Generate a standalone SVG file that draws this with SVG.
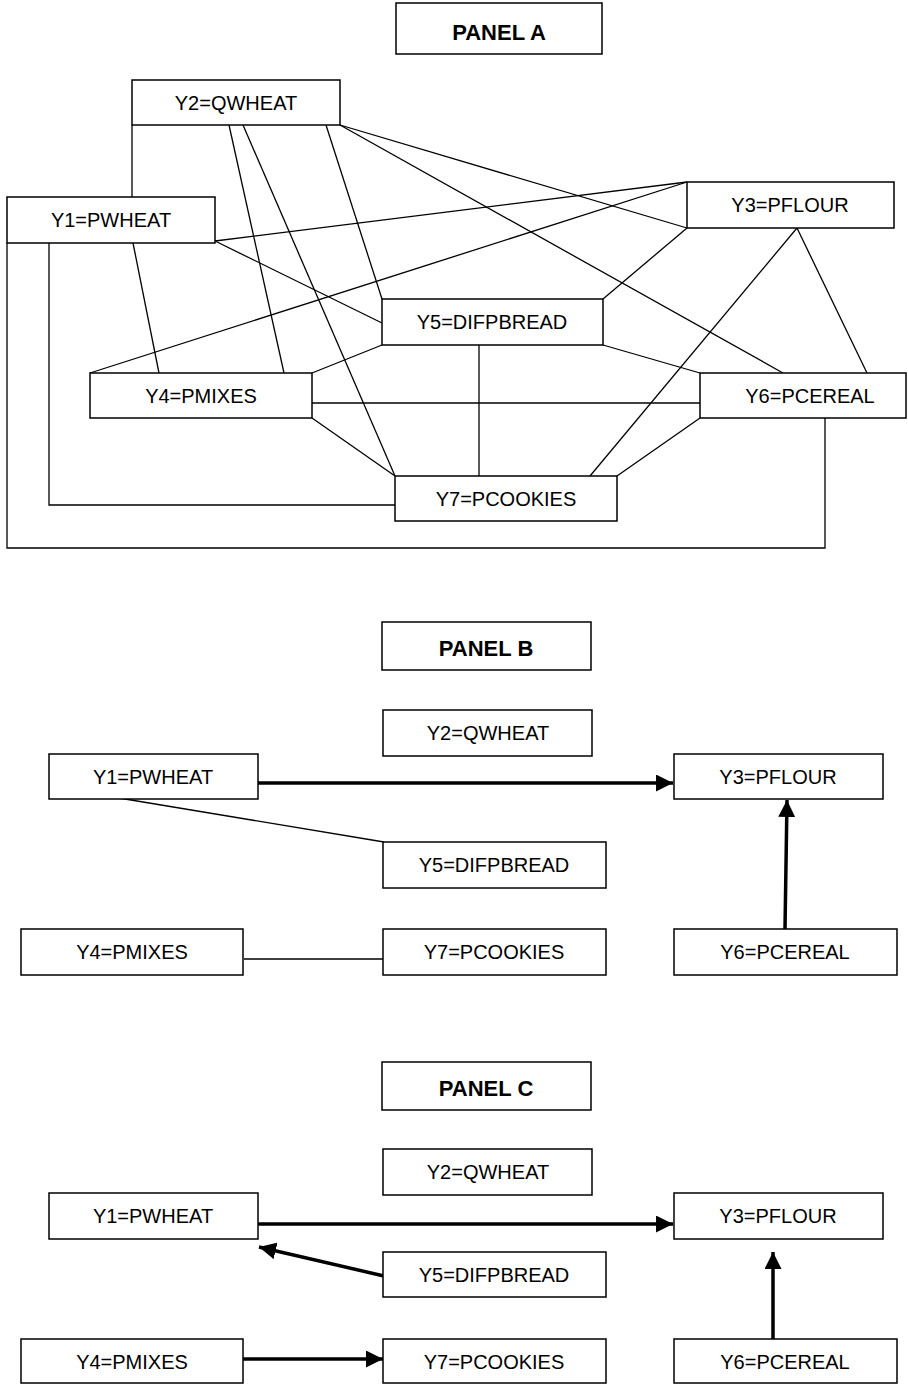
<svg xmlns="http://www.w3.org/2000/svg" width="908" height="1384" viewBox="0 0 908 1384">
<defs>
<style>
.box{fill:#fff;stroke:#000;stroke-width:1.5}
.t{font-family:"Liberation Sans",Arial,sans-serif;font-size:20px;text-anchor:middle;fill:#000}
.h{font-family:"Liberation Sans",Arial,sans-serif;font-size:22px;font-weight:bold;text-anchor:middle;fill:#000}
.ln{fill:none;stroke:#000;stroke-width:1.3}
.ar{fill:none;stroke:#000;stroke-width:3.5}
.ar2{fill:none;stroke:#000;stroke-width:3.5}
</style>
<marker id="ah" viewBox="0 0 17 17" refX="17" refY="8.5" markerWidth="17" markerHeight="17" markerUnits="userSpaceOnUse" orient="auto">
<path d="M0,0 L17,8.5 L0,17 z" fill="#000"/>
</marker>
</defs>
<rect width="908" height="1384" fill="#fff"/>

<!-- Panel A -->
<g id="connectors-a">
<polyline class="ln" points="7,243 7,548 825,548 825,418"/>
<polyline class="ln" points="49,243 49,505 395,505"/>
<line class="ln" x1="132" y1="125" x2="132" y2="197"/>
<line class="ln" x1="229" y1="125" x2="284" y2="373"/>
<line class="ln" x1="243" y1="125" x2="395" y2="476"/>
<line class="ln" x1="326" y1="125" x2="382" y2="299"/>
<line class="ln" x1="340" y1="125" x2="687" y2="228"/>
<line class="ln" x1="340" y1="125" x2="783" y2="373"/>
<line class="ln" x1="215" y1="241" x2="687" y2="182"/>
<line class="ln" x1="215" y1="241" x2="382" y2="323"/>
<line class="ln" x1="133" y1="243" x2="159" y2="373"/>
<line class="ln" x1="90" y1="373" x2="687" y2="182"/>
<line class="ln" x1="312" y1="373" x2="382" y2="345"/>
<line class="ln" x1="312" y1="403" x2="700" y2="403"/>
<line class="ln" x1="312" y1="418" x2="395" y2="476"/>
<line class="ln" x1="603" y1="299" x2="687" y2="228"/>
<line class="ln" x1="603" y1="345" x2="700" y2="373"/>
<line class="ln" x1="479" y1="345" x2="479" y2="476"/>
<line class="ln" x1="797" y1="228" x2="867" y2="373"/>
<line class="ln" x1="797" y1="228" x2="590" y2="476"/>
<line class="ln" x1="700" y1="418" x2="617" y2="476"/>
</g>
<g id="panel-a-title"><rect class="box" x="396" y="3" width="206" height="51"/><text class="h" x="499" y="40">PANEL A</text></g>
<g id="a-y2"><rect class="box" x="132" y="80" width="208" height="45"/><text class="t" x="236" y="110">Y2=QWHEAT</text></g>
<g id="a-y1"><rect class="box" x="7" y="197" width="208" height="46"/><text class="t" x="111" y="227">Y1=PWHEAT</text></g>
<g id="a-y3"><rect class="box" x="687" y="182" width="207" height="46"/><text class="t" x="790" y="212">Y3=PFLOUR</text></g>
<g id="a-y5"><rect class="box" x="382" y="299" width="221" height="46"/><text class="t" x="492" y="329">Y5=DIFPBREAD</text></g>
<g id="a-y4"><rect class="box" x="90" y="373" width="222" height="45"/><text class="t" x="201" y="403">Y4=PMIXES</text></g>
<g id="a-y6"><rect class="box" x="700" y="373" width="206" height="45"/><text class="t" x="810" y="403">Y6=PCEREAL</text></g>
<g id="a-y7"><rect class="box" x="395" y="476" width="222" height="45"/><text class="t" x="506" y="506">Y7=PCOOKIES</text></g>

<!-- Panel B -->
<g id="connectors-b">
<line class="ar" x1="258" y1="783" x2="673" y2="783" marker-end="url(#ah)"/>
<line class="ar2" x1="785" y1="929" x2="787" y2="800" marker-end="url(#ah)"/>
<line class="ln" x1="119" y1="798" x2="384" y2="842"/>
<line class="ln" x1="244" y1="959" x2="384" y2="959"/>
</g>
<g id="panel-b-title"><rect class="box" x="382" y="622" width="209" height="48"/><text class="h" x="486" y="656">PANEL B</text></g>
<g id="b-y2"><rect class="box" x="383" y="710" width="209" height="46"/><text class="t" x="488" y="740">Y2=QWHEAT</text></g>
<g id="b-y1"><rect class="box" x="49" y="754" width="209" height="45"/><text class="t" x="153" y="784">Y1=PWHEAT</text></g>
<g id="b-y3"><rect class="box" x="674" y="754" width="209" height="45"/><text class="t" x="778" y="784">Y3=PFLOUR</text></g>
<g id="b-y5"><rect class="box" x="383" y="842" width="223" height="46"/><text class="t" x="494" y="872">Y5=DIFPBREAD</text></g>
<g id="b-y4"><rect class="box" x="21" y="929" width="222" height="46"/><text class="t" x="132" y="959">Y4=PMIXES</text></g>
<g id="b-y7"><rect class="box" x="383" y="929" width="223" height="46"/><text class="t" x="494" y="959">Y7=PCOOKIES</text></g>
<g id="b-y6"><rect class="box" x="674" y="929" width="223" height="46"/><text class="t" x="785" y="959">Y6=PCEREAL</text></g>

<!-- Panel C -->
<g id="connectors-c">
<line class="ar" x1="258" y1="1224" x2="673" y2="1224" marker-end="url(#ah)"/>
<line class="ar" x1="384" y1="1276" x2="259" y2="1247" marker-end="url(#ah)"/>
<line class="ar2" x1="773" y1="1340" x2="773" y2="1252" marker-end="url(#ah)"/>
<line class="ar" x1="242" y1="1359" x2="383" y2="1359" marker-end="url(#ah)"/>
</g>
<g id="panel-c-title"><rect class="box" x="382" y="1062" width="209" height="48"/><text class="h" x="486" y="1096">PANEL C</text></g>
<g id="c-y2"><rect class="box" x="383" y="1149" width="209" height="46"/><text class="t" x="488" y="1179">Y2=QWHEAT</text></g>
<g id="c-y1"><rect class="box" x="49" y="1193" width="209" height="46"/><text class="t" x="153" y="1223">Y1=PWHEAT</text></g>
<g id="c-y3"><rect class="box" x="674" y="1193" width="209" height="46"/><text class="t" x="778" y="1223">Y3=PFLOUR</text></g>
<g id="c-y5"><rect class="box" x="383" y="1252" width="223" height="45"/><text class="t" x="494" y="1282">Y5=DIFPBREAD</text></g>
<g id="c-y4"><rect class="box" x="21" y="1339" width="222" height="44"/><text class="t" x="132" y="1369">Y4=PMIXES</text></g>
<g id="c-y7"><rect class="box" x="383" y="1339" width="223" height="44"/><text class="t" x="494" y="1369">Y7=PCOOKIES</text></g>
<g id="c-y6"><rect class="box" x="674" y="1339" width="223" height="44"/><text class="t" x="785" y="1369">Y6=PCEREAL</text></g>
</svg>
